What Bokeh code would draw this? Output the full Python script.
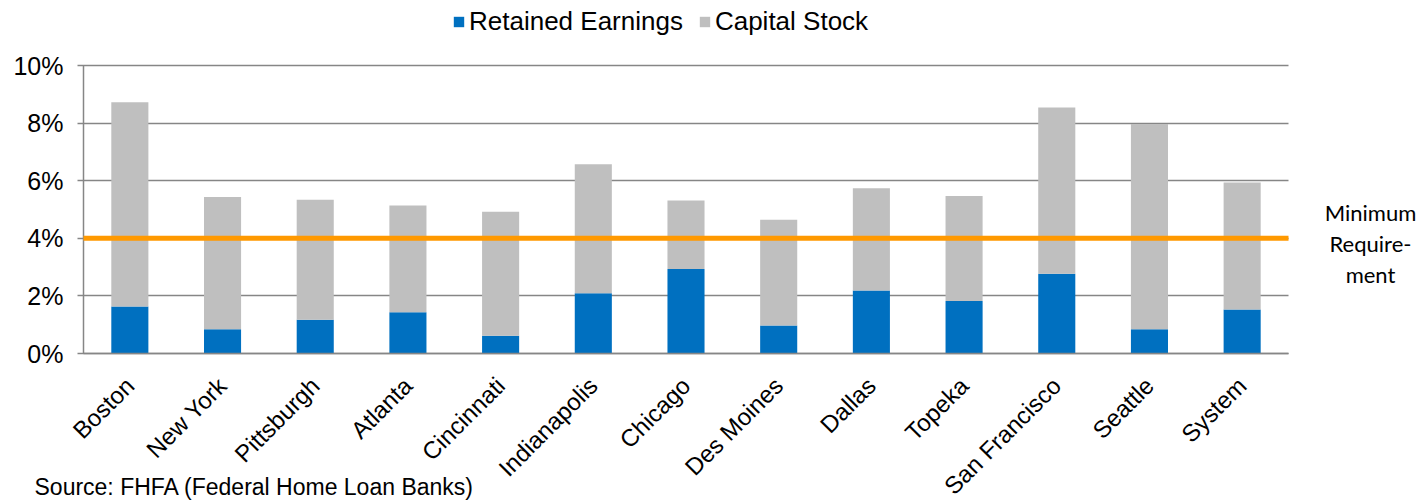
from bokeh.plotting import figure
from bokeh.models import (ColumnDataSource, Range1d, FixedTicker, Legend, LegendItem, Label)
from bokeh.embed import file_html
from bokeh.resources import INLINE
import math

# ---- data ----
cities = ["Boston", "New York", "Pittsburgh", "Atlanta", "Cincinnati", "Indianapolis",
          "Chicago", "Des Moines", "Dallas", "Topeka", "San Francisco", "Seattle", "System"]
retained_earnings = [1.63, 0.84, 1.17, 1.43, 0.62, 2.09, 2.93, 0.97, 2.19, 1.82, 2.77, 0.84, 1.53]
capital_stock = [7.09, 4.59, 4.17, 3.71, 4.30, 4.48, 2.38, 3.67, 3.55, 3.65, 5.77, 7.13, 4.41]
series_names = ["Retained Earnings", "Capital Stock"]
y_ticks = [0, 2, 4, 6, 8, 10]
y_tick_labels = ["0%", "2%", "4%", "6%", "8%", "10%"]
min_requirement = 4.0
min_req_lines = ["Minimum", "Require-", "ment"]
source_note = "Source: FHFA (Federal Home Loan Banks)"

BLUE = "#0070C0"
GRAY = "#BFBFBF"
AXIS = "#868686"
ORANGE = "#FF9900"
FONT = "Liberation Sans"

W, H = 1426, 501
PLOT_L, PLOT_R, PLOT_T, PLOT_B = 83, 1288, 65, 353   # pixel box of the value axes
LABEL_DY = 8   # measured offset of screen-unit labels

n = len(cities)
centers = [i + 0.5 for i in range(n)]
px_x = (PLOT_R - PLOT_L) / n
px_y = (PLOT_B - PLOT_T) / (y_ticks[-1] - y_ticks[0])
x_range = Range1d(-PLOT_L / px_x, n + (W - PLOT_R) / px_x)
y_range = Range1d(-(H - PLOT_B) / px_y, y_ticks[-1] + PLOT_T / px_y)

src = ColumnDataSource(dict(x=centers, retained=retained_earnings, capital=capital_stock))

p = figure(width=W, height=H, x_range=x_range, y_range=y_range,
           output_backend="svg", toolbar_location=None,
           min_border_left=0, min_border_right=0, min_border_top=0, min_border_bottom=0)
p.outline_line_color = None
p.background_fill_color = "white"
p.border_fill_color = "white"
p.grid.visible = False

renderers = p.vbar_stack(["retained", "capital"], x="x", width=0.4,
                         color=[BLUE, GRAY], line_color=None, source=src)

# minimum requirement line across the category area
p.line(x=[0, n], y=[min_requirement, min_requirement], line_color=ORANGE, line_width=5)

# y axis: ticks drawn inward across the plot act as the horizontal gridlines (behind bars)
ya = p.yaxis[0]
ya.level = "underlay"
ya.fixed_location = 0
ya.bounds = (y_ticks[0], y_ticks[-1])
ya.ticker = FixedTicker(ticks=y_ticks)
ya.major_label_overrides = {t: l for t, l in zip(y_ticks, y_tick_labels)}
ya.axis_line_color = AXIS
ya.axis_line_width = 1.5
ya.major_tick_line_color = AXIS
ya.major_tick_line_width = 1.5
ya.major_tick_out = 6
ya.major_tick_in = PLOT_R - PLOT_L
ya.minor_tick_line_color = None
ya.major_label_standoff = 14
ya.major_label_text_font = FONT
ya.major_label_text_font_size = "25px"
ya.major_label_text_color = "black"

xa = p.xaxis[0]
xa.fixed_location = 0
xa.bounds = (0, n)
xa.ticker = FixedTicker(ticks=centers)
xa.major_label_overrides = {c: name for c, name in zip(centers, cities)}
xa.axis_line_color = AXIS
xa.axis_line_width = 1.5
xa.major_tick_line_color = None
xa.major_tick_in = 0
xa.major_tick_out = 0
xa.minor_tick_line_color = None
xa.major_label_orientation = math.pi / 4
xa.major_label_standoff = 28
xa.major_label_text_font = FONT
xa.major_label_text_font_size = "24px"
xa.major_label_text_color = "black"

legend = Legend(items=[LegendItem(label=s, renderers=[r]) for s, r in zip(series_names, renderers)],
                location=(452, 464), orientation="horizontal",
                border_line_color=None, background_fill_alpha=0,
                padding=0, margin=0, spacing=15, label_standoff=4,
                glyph_width=13, glyph_height=13,
                label_text_font=FONT, label_text_font_size="26px", label_text_color="black")
p.add_layout(legend, "center")

for i, line in enumerate(min_req_lines):
    p.add_layout(Label(x=1370, y=H - 220 - 31 * i + LABEL_DY, x_units="screen", y_units="screen",
                       text=line, text_align="center", text_baseline="alphabetic",
                       text_font="Lato", text_font_size="22px", text_color="black"))

p.add_layout(Label(x=34, y=H - 494 + LABEL_DY, x_units="screen", y_units="screen", text=source_note,
                   text_align="left", text_baseline="alphabetic", text_font=FONT,
                   text_font_size="23px", text_color="black"))

open("out.html", "w").write(file_html(p, INLINE))
